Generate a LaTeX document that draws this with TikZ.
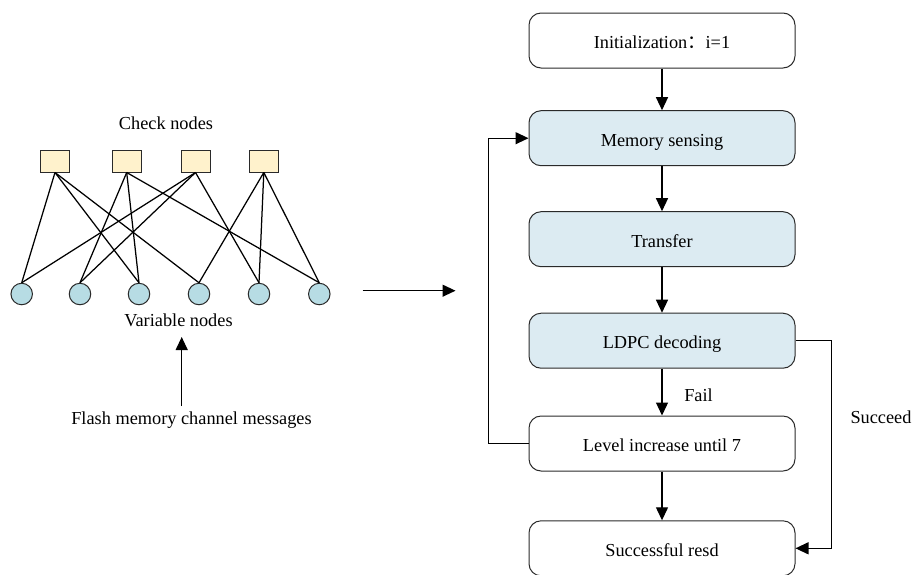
\documentclass[tikz,border=0pt]{standalone}
\usepackage{fontspec}
\setmainfont{Liberation Serif}
\newfontfamily\cjkfont{Noto Sans CJK SC}
\usetikzlibrary{arrows.meta}

\definecolor{chkfill}{HTML}{FFF2CC}
\definecolor{varfill}{HTML}{B7DCE4}
\definecolor{boxfill}{HTML}{DCEBF2}
\definecolor{rimgray}{HTML}{2A2A2A}

\begin{document}
\begin{tikzpicture}[x=1pt,y=-1pt,
  font=\fontsize{18.3}{22}\selectfont,
  chk/.style={draw=rimgray, fill=chkfill, minimum width=29pt, minimum height=22pt,
              inner sep=0pt, line width=1pt},
  var/.style={circle, draw=rimgray, fill=varfill, minimum size=21.5pt,
              inner sep=0pt, line width=1pt},
  link/.style={line width=1.25pt},
  flowbox/.style={draw=rimgray, rounded corners=12pt, minimum width=266pt,
                  minimum height=55pt, inner sep=0pt, line width=1pt,
                  text height=18pt, text depth=2.4pt},
  hlbox/.style={flowbox, fill=boxfill},
  arr/.style={line width=1.25pt, -{Triangle[length=13pt,width=12pt]}},
  lbl/.style={anchor=base, inner sep=0pt},
]
\useasboundingbox (0,0) rectangle (915,574);

% ---------- Tanner graph ----------
\node[chk] (c1) at (55,161) {};
\node[chk] (c2) at (126.7,161) {};
\node[chk] (c3) at (195.5,161) {};
\node[chk] (c4) at (263.8,161) {};

\node[var] (v1) at (21.7,294) {};
\node[var] (v2) at (80,294) {};
\node[var] (v3) at (139,294) {};
\node[var] (v4) at (199,294) {};
\node[var] (v5) at (259,294) {};
\node[var] (v6) at (319.3,294) {};

\foreach \c/\v in {c1/v1,c1/v3,c1/v4,c2/v2,c2/v3,c2/v6,c3/v1,c3/v2,c3/v5,c4/v4,c4/v5,c4/v6}
  \draw[link] (\c.south) -- (\v.north);

\node[lbl] (chklbl) at (166,129) {Check nodes};
\node[lbl] (varlbl) at (178.5,326.5) {Variable nodes};
\node[lbl] (flashlbl) at (191.5,424) {Flash memory channel messages};
\coordinate (flashtop) at (181.7,406);
\coordinate (flashtip) at (181.7,337);
\draw[arr] (flashtop) -- (flashtip);

% ---------- link between the two parts ----------
\coordinate (midL) at (362.7,290.7);
\coordinate (midR) at (455.5,290.7);
\draw[arr] (midL) -- (midR);

% ---------- flow chart ----------
\node[flowbox] (init) at (662,40.5) {Initialization{\cjkfont ：}i=1};
\node[hlbox] (sense) at (662,138.2) {Memory sensing};
\node[hlbox] (xfer) at (662,239.2) {Transfer};
\node[hlbox] (ldpc) at (662,340.7) {LDPC decoding};
\node[flowbox] (level) at (662,443.5) {Level increase until 7};
\node[flowbox] (done) at (662,548.3) {Successful resd};

\draw[arr] (init) -- (sense);
\draw[arr] (sense) -- (xfer);
\draw[arr] (xfer) -- (ldpc);
\draw[arr] (ldpc) -- (level);
\draw[arr] (level) -- (done);

\draw[arr] (level.west) -- ++(-39.7,0) |- (sense.west);
\draw[arr] (ldpc.east) -- ++(35.7,0) |- (done.east);

\node[lbl] (faillbl) at (698.5,401) {Fail};
\node[lbl] (succlbl) at (881,423.3) {Succeed};
\end{tikzpicture}
\end{document}
